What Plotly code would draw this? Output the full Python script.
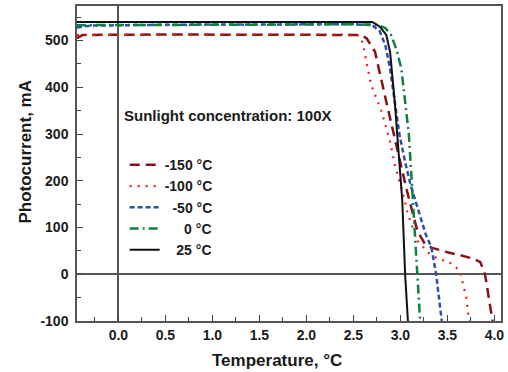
import plotly.graph_objects as go

# ---- data ----
series_names = ["-150 °C", "-100 °C", "-50 °C", "0 °C", "25 °C"]
legend_labels = ["-150 °C", "-100 °C", "\u00a0\u00a0-50 °C", "\u00a0\u00a0\u00a0\u00a0\u00a00 °C", "\u00a0\u00a0\u00a025 °C"]

x_tickvals = [0.0, 0.5, 1.0, 1.5, 2.0, 2.5, 3.0, 3.5, 4.0]
x_ticktext = ["0.0", "0.5", "1.0", "1.5", "2.0", "2.5", "3.0", "3.5", "4.0"]
y_tickvals = [-100, 0, 100, 200, 300, 400, 500]
y_ticktext = ["-100", "0", "100", "200", "300", "400", "500"]

x_m150 = [-0.44, -0.38, 0.5, 1.5, 2.5, 2.58, 2.64, 2.73, 2.85, 2.97, 3.07, 3.18, 3.26, 3.33, 3.5, 3.65, 3.78, 3.85, 3.9, 3.98]
y_m150 = [505, 512, 513, 513, 513, 512, 505, 476, 369, 263, 178, 93, 65, 57, 47, 40, 33, 26, 0, -100]

x_m100 = [-0.44, 0.5, 1.5, 2.5, 2.56, 2.6, 2.63, 2.69, 2.8, 2.89, 2.94, 3.02, 3.08, 3.18, 3.29, 3.4, 3.52, 3.63, 3.70, 3.73]
y_m100 = [512, 513, 513, 513, 511, 495, 462, 405, 348, 284, 235, 178, 128, 72, 47, 33, 26, 8, -49, -100]

x_m50 = [-0.44, -0.3, 0.5, 1.5, 2.5, 2.7, 2.78, 2.84, 2.89, 2.99, 3.05, 3.11, 3.2, 3.27, 3.33, 3.38, 3.44]
y_m50 = [528, 532, 534, 535, 535, 533, 520, 490, 440, 299, 240, 190, 128, 85, 57, 0, -100]

x_0 = [-0.44, 0.5, 1.5, 2.5, 2.75, 2.84, 2.9, 2.96, 3.01, 3.09, 3.12, 3.15, 3.18, 3.21]
y_0 = [533, 533, 534, 535, 534, 527, 512, 480, 440, 299, 190, 93, 0, -100]

x_25 = [-0.44, 0.5, 1.5, 2.5, 2.7, 2.78, 2.85, 2.89, 2.94, 2.98, 3.02, 3.05, 3.08]
y_25 = [540, 540, 541, 541, 540, 530, 512, 476, 369, 263, 157, 0, -100]

xs = [x_m150, x_m100, x_m50, x_0, x_25]
ys = [y_m150, y_m100, y_m50, y_0, y_25]

colors = ["#861417", "#f01e1e", "#2a4fb0", "#0f8040", "#111111"]
dashes = ["10px,6px", "2px,6px", "5px,3px", "9px,4px,2px,4px", "solid"]
widths = [2.5, 2.2, 2.5, 2.5, 2.0]

FONT = "Liberation Sans, Arial, Helvetica, sans-serif"

fig = go.Figure()
for name, lab, x, y, c, d, w in zip(series_names, legend_labels, xs, ys, colors, dashes, widths):
    fig.add_trace(go.Scatter(x=x, y=y, mode="lines", name=lab,
                             line=dict(color=c, dash=d, width=w)))

axis_common = dict(
    showline=True, mirror=True, linecolor="#555555", linewidth=1.5,
    showgrid=False, zeroline=True, zerolinecolor="#555555", zerolinewidth=1.5,
    ticks="inside", ticklen=6, tickwidth=1.2, tickcolor="#444444",
    tickfont=dict(family=FONT, size=14, color="#1a1a1a", weight="bold"),
)

fig.update_xaxes(range=[-0.44, 4.07], tickmode="array", tickvals=x_tickvals, ticktext=x_ticktext,
                 minor=dict(dtick=0.25, tick0=0, ticks="inside", ticklen=4, tickcolor="#444444"),
                 **axis_common)
fig.update_yaxes(range=[-100, 574], tickmode="array", tickvals=y_tickvals, ticktext=y_ticktext,
                 minor=dict(dtick=50, tick0=0, ticks="inside", ticklen=4, tickcolor="#444444"),
                 ticklabelstandoff=4,
                 **axis_common)

fig.add_annotation(text="Sunlight concentration: 100X", xref="paper", yref="paper",
                   x=(122 - 77) / 427, y=(320.7 - 114) / 316.7, xanchor="left", yanchor="middle",
                   showarrow=False, font=dict(family=FONT, size=15, color="#1a1a1a", weight="bold"))
fig.add_annotation(text="Photocurrent, mA", xref="paper", yref="paper",
                   x=(25 - 77) / 427, y=(320.7 - 150) / 316.7, xanchor="center", yanchor="middle",
                   textangle=-90, showarrow=False,
                   font=dict(family=FONT, size=17, color="#1a1a1a", weight="bold"))
fig.add_annotation(text="Temperature, °C", xref="paper", yref="paper",
                   x=(278 - 77) / 427, y=(320.7 - 360) / 316.7, xanchor="center", yanchor="middle",
                   showarrow=False,
                   font=dict(family=FONT, size=17, color="#1a1a1a", weight="bold"))

fig.update_layout(
    width=508, height=372,
    margin=dict(l=77, r=4, t=4, b=51),
    paper_bgcolor="white", plot_bgcolor="white",
    showlegend=True,
    legend=dict(x=(125 - 77) / 427, y=(320.7 - 148) / 316.7, xanchor="left", yanchor="top",
                bgcolor="rgba(0,0,0,0)", borderwidth=0, tracegroupgap=0,
                itemwidth=30,
                font=dict(family=FONT, size=14, color="#1a1a1a", weight="bold")),
)

fig.write_html("out.html", config={"displayModeBar": False},
               post_script="document.body.style.margin='0';document.body.style.padding='0';")
